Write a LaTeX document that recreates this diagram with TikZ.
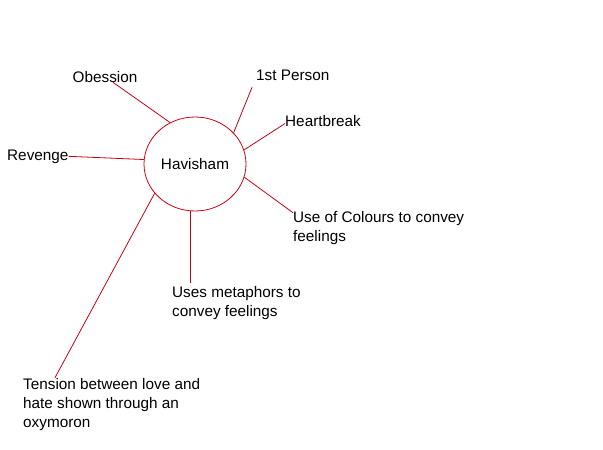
\documentclass[tikz,border=0pt]{standalone}
\usepackage{fontspec}
\setmainfont{Liberation Sans}
\usetikzlibrary{shapes.geometric}
\definecolor{linkred}{RGB}{204,0,20}
\begin{document}
\begin{tikzpicture}[x=1pt, y=-1pt,
        lbl/.style={anchor=base west, inner sep=0pt, align=left, font=\fontsize{15.3}{19}\selectfont},
        link/.style={draw=linkred, line width=0.8pt}]
        \useasboundingbox (0,0) rectangle (603,450);
        \node [ellipse, link, minimum width=102pt, minimum height=94pt, inner sep=0pt, font=\fontsize{15.3}{19}\selectfont] (hav) at (195,164) {Havisham};
        \node [lbl] (obs) at (72.5,82) {Obession};
        \node [lbl] (fp) at (256,80) {1st Person};
        \node [lbl] (hb) at (285,126) {Heartbreak};
        \node [lbl] (rev) at (7,160) {Revenge};
        \node [lbl] (uoc) at (293,241) {Use of Colours to convey\\feelings};
        \node [lbl] (um) at (172,316) {Uses metaphors to\\convey feelings};
        \node [lbl] (ten) at (23,427) {Tension between love and\\hate shown through an\\oxymoron};
        \coordinate (umtop) at ([yshift=3pt]um.north);
        \draw [link] (hav.121) -- ([xshift=8pt]obs.south);
        \draw [link] (hav.39) -- ([xshift=-4pt,yshift=-7pt]fp.south west);
        \draw [link] (hav.16) -- ([yshift=-3pt]hb.west);
        \draw [link] (hav.175) -- (rev.east);
        \draw [link] (hav.-15) -- ([yshift=-2pt]uoc.north west);
        \draw [link] (hav.-96) -- (hav.-96 |- umtop);
        \draw [link] (hav.216) -- ([xshift=32pt]ten.north west);
    \end{tikzpicture}
\end{document}
